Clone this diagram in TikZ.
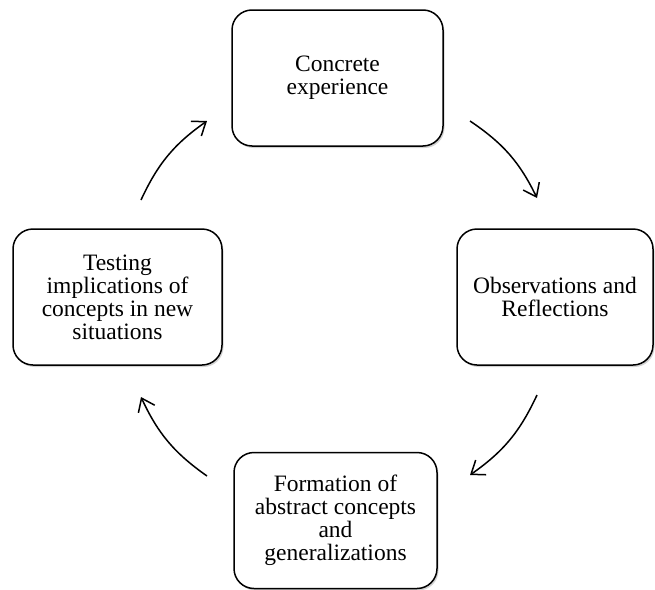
\documentclass[tikz,border=0pt]{standalone}
\usepackage{fontspec}
\setmainfont{Liberation Serif}
\usetikzlibrary{arrows.meta,shadows}
\begin{document}
\begin{tikzpicture}[x=1pt,y=1pt,
    stage/.style={draw, line width=1.5pt, rounded corners=20pt, fill=white,
      minimum height=136pt, align=center, font=\fontsize{23.5}{23}\selectfont,
      drop shadow={opacity=0.35, shadow xshift=1.5pt, shadow yshift=-2pt}},
    cyc/.style={line width=1.5pt, -{Straight Barb[length=12pt,width=18pt]}, bend left=15}]
    \useasboundingbox (0,0) rectangle (655,-589);
    \node[stage, minimum width=211pt] (st0) at (337.5,-78){Concrete\\experience};
    \node[stage, minimum width=196pt] (st1) at (555,-297){Observations and\\Reflections};
    \node[stage, minimum width=203pt] (st2) at (335.5,-520.5){Formation of\\abstract concepts\\and\\generalizations};
    \node[stage, minimum width=209pt] (st3) at (117.5,-297){Testing\\implications of\\concepts in new\\situations};
    \coordinate (ar0s) at (470,-121);
    \coordinate (ar0e) at (537,-198);
    \coordinate (ar1s) at (537,-395);
    \coordinate (ar1e) at (470,-475);
    \coordinate (ar2s) at (207,-476);
    \coordinate (ar2e) at (141,-397);
    \coordinate (ar3s) at (141,-200);
    \coordinate (ar3e) at (207,-121);
    \draw[cyc] (ar0s) to (ar0e);
    \draw[cyc] (ar1s) to (ar1e);
    \draw[cyc] (ar2s) to (ar2e);
    \draw[cyc] (ar3s) to (ar3e);
  \end{tikzpicture}
\end{document}
